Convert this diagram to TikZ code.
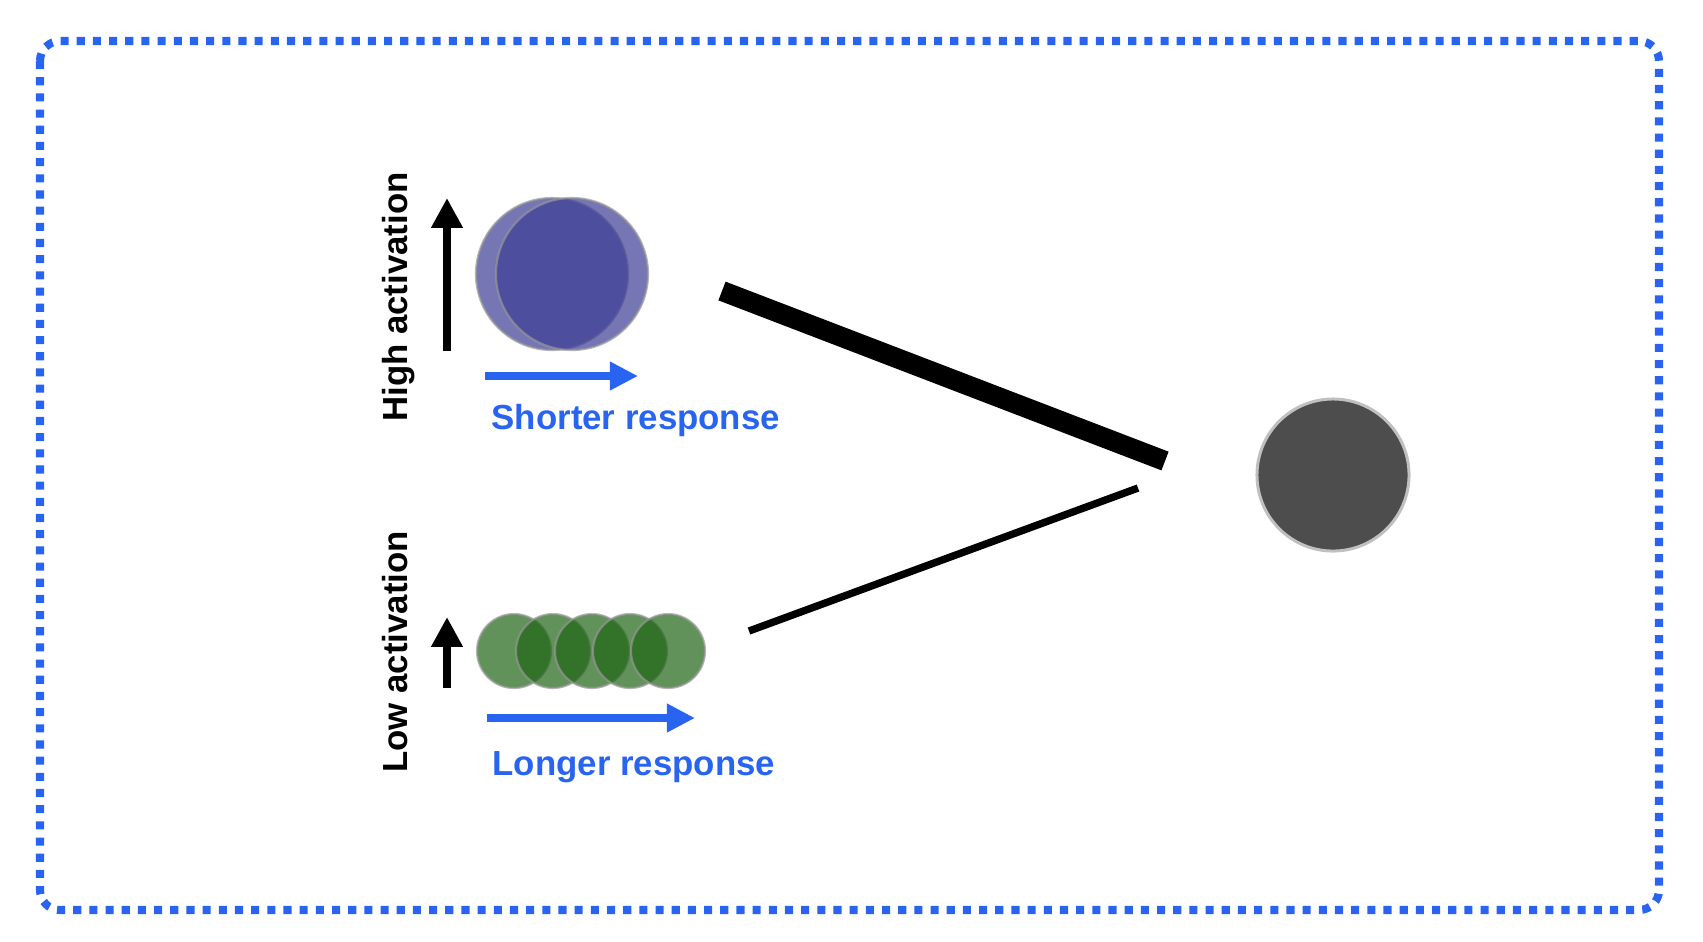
\documentclass[tikz,border=0pt]{standalone}
\usepackage{fontspec}
\setmainfont{Liberation Sans}
\usetikzlibrary{arrows.meta}
\definecolor{frameblue}{RGB}{40,100,240}
\definecolor{highpurple}{RGB}{60,60,150}
\definecolor{lowgreen}{RGB}{30,100,20}
\definecolor{outgray}{RGB}{77,77,77}
\definecolor{ringgray}{RGB}{150,150,150}
\begin{document}
\begin{tikzpicture}[x=0.01cm, y=-0.01cm,
    frame/.style={draw=frameblue, line width=2.3pt, dash pattern=on 2.3pt off 2.3pt, rounded corners=0.2cm},
    highdot/.style={circle, minimum size=1.52cm, inner sep=0pt, fill=highpurple, draw=ringgray, line width=0.6pt, opacity=0.7},
    lowdot/.style={circle, minimum size=0.74cm, inner sep=0pt, fill=lowgreen, draw=ringgray, line width=0.6pt, opacity=0.7},
    outdot/.style={circle, minimum size=1.52cm, inner sep=0pt, fill=outgray, draw=ringgray!60, line width=0.85pt},
    upaxis/.style={line width=2.3pt, -{Triangle[length=8.5pt, width=8.5pt]}},
    timeaxis/.style={draw=frameblue, line width=2.3pt, -{Triangle[length=8pt, width=7.7pt]}},
    sidetext/.style={font=\bfseries\fontsize{9.9pt}{11pt}\selectfont, inner sep=0pt},
    resptext/.style={font=\bfseries\fontsize{9.9pt}{11pt}\selectfont, inner sep=0pt, text=frameblue}]
    \useasboundingbox (0,0) rectangle (1703,941);
    \draw[frame] (40,41) rectangle (1659,910);

    % neurons
    \node[highdot] (high1) at (552,274) {};
    \node[highdot] (high2) at (572,274) {};
    \foreach \i/\x in {1/514, 2/553, 3/592, 4/630, 5/668}
        \node[lowdot] (low\i) at (\x,651) {};
    \node[outdot] (out) at (1333,475) {};

    % synapses
    \coordinate (strong start) at (722,291);
    \coordinate (strong end) at (1165,461);
    \coordinate (weak start) at (749,631);
    \coordinate (weak end) at (1138,488);
    \draw[line width=5.7pt] (strong start) -- (strong end);
    \draw[line width=2.1pt] (weak start) -- (weak end);

    % activation and response
    \coordinate (high base) at (447,351);
    \coordinate (high tip) at (447,198);
    \coordinate (low base) at (447,688);
    \coordinate (low tip) at (447,617);
    \draw[upaxis] (high base) -- (high tip);
    \draw[upaxis] (low base) -- (low tip);
    \coordinate (short from) at (485,376);
    \coordinate (short to) at (638,376);
    \coordinate (long from) at (487,718);
    \coordinate (long to) at (695,718);
    \draw[timeaxis] (short from) -- (short to);
    \draw[timeaxis] (long from) -- (long to);

    \node[sidetext, rotate=90, anchor=base] (hightext) at (407,297) {High activation};
    \node[sidetext, rotate=90, anchor=base] (lowtext) at (407,652) {Low activation};
    \node[resptext, anchor=base west] (shorttext) at (491,429) {Shorter response};
    \node[resptext, anchor=base west] (longtext) at (492,775) {Longer response};
\end{tikzpicture}
\end{document}
